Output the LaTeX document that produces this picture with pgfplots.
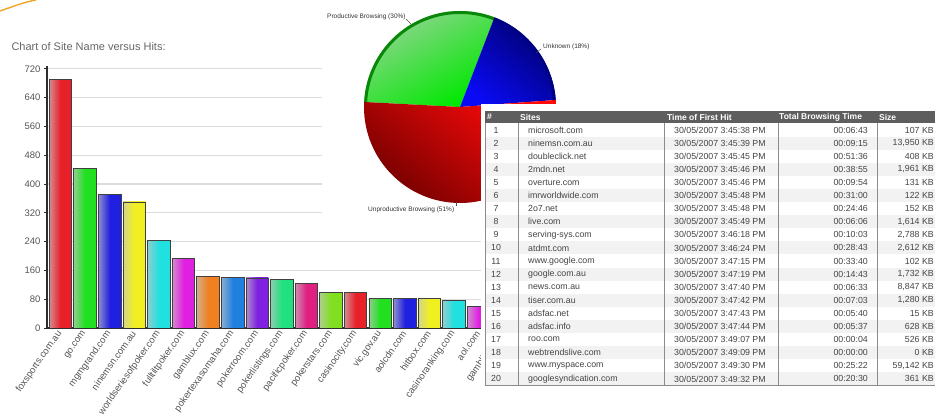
\documentclass[border=0pt]{standalone}
\usepackage{fontspec}
\setmainfont{Liberation Sans}
\usepackage{pgfplots}
\pgfplotsset{compat=1.18}

\definecolor{cRed}{HTML}{E8202A}
\definecolor{cGreen}{HTML}{20E020}
\definecolor{cBlue}{HTML}{2020E0}
\definecolor{cYellow}{HTML}{F0F020}
\definecolor{cCyan}{HTML}{20E0E0}
\definecolor{cMagenta}{HTML}{E020E0}
\definecolor{cOrange}{HTML}{F08020}
\definecolor{cAzure}{HTML}{2080E0}
\definecolor{cViolet}{HTML}{8020E0}
\definecolor{cSpring}{HTML}{20E080}
\definecolor{cRose}{HTML}{E02080}
\definecolor{cLime}{HTML}{80E020}
\definecolor{axisdark}{HTML}{2E2E2E}
\definecolor{gridgray}{HTML}{DCDCDC}
\definecolor{labgray}{HTML}{555555}
\definecolor{titlegray}{HTML}{666666}
\definecolor{accent}{HTML}{F0A628}
\definecolor{hdrgray}{HTML}{5E5E5E}
\definecolor{rowgray}{HTML}{F2F2F2}
\definecolor{tabtext}{HTML}{444444}
\definecolor{tabline}{HTML}{8C8C8C}
\definecolor{pgLight}{RGB}{150,212,150}
\definecolor{pgBright}{RGB}{0,232,0}
\definecolor{pgRim}{RGB}{10,135,10}
\definecolor{pbDark}{RGB}{0,0,110}
\definecolor{pbBright}{RGB}{10,10,245}
\definecolor{pbRim}{RGB}{0,0,130}
\definecolor{prBright}{RGB}{255,10,10}
\definecolor{prDark}{RGB}{115,0,0}

% one shaded bar: colour, position, hits
\newcommand\hitbar[3]{\addplot[ybar, bar width=22.5pt, bar shift=0pt, draw=black!75, line width=0.8pt,
  left color=#1!40!white!85!black, right color=#1, middle color=#1] coordinates {(#2,#3)};}

% pie shares (percent)
\def\pProd{30}
\def\pUnk{18}
\def\pUnpr{51}

\begin{document}
\begin{tikzpicture}[x=1pt,y=1pt]

\draw[accent, line width=1.4pt] (0,409) .. controls (12,413) and (24,418) .. (36,420);

\node[anchor=west, text=titlegray, font=\fontsize{11}{13}\selectfont] at (8,373) {Chart of Site Name versus Hits:};

\begin{axis}[
  at={(47pt,92pt)}, anchor=south west,
  x=24.59pt, y=0.36pt,
  xmin=-0.55, xmax=20, ymin=0, ymax=728,
  axis lines*=left,
  axis line style={line width=2.2pt, color=axisdark},
  ymajorgrids, grid style={line width=1.3pt, color=gridgray},
  ytick={0,80,...,720},
  xtick={0,...,18},
  xticklabels={foxsports.com.au, go.com, mgmgrand.com, ninemsn.com.au, worldseriesofpoker.com,
    fulltiltpoker.com, gamblux.com, pokertexasomaha.com, pokerroom.com, pokerlistings.com,
    pacificpoker.com, pokerstars.com, casinocity.com, vic.gov.au, aolcdn.com, hitbox.com,
    casinoranking.com, aol.com, gambling.com},
  tick align=outside, major tick length=3pt,
  y tick style={color=axisdark, line width=0.6pt},
  x tick style={draw=none},
  yticklabel style={font=\fontsize{9.5}{11}\selectfont, text=labgray},
  xticklabel style={font=\fontsize{9.5}{11}\selectfont, text=labgray, rotate=55, anchor=east, inner sep=1pt},
  /pgf/number format/assume math mode=true,
]
\hitbar{cRed}{0}{690}
\hitbar{cGreen}{1}{442}
\hitbar{cBlue}{2}{370}
\hitbar{cYellow}{3}{350}
\hitbar{cCyan}{4}{242}
\hitbar{cMagenta}{5}{194}
\hitbar{cOrange}{6}{143}
\hitbar{cAzure}{7}{140}
\hitbar{cViolet}{8}{139}
\hitbar{cSpring}{9}{136}
\hitbar{cRose}{10}{124}
\hitbar{cLime}{11}{98}
\hitbar{cRed}{12}{98}
\hitbar{cGreen}{13}{82}
\hitbar{cBlue}{14}{82}
\hitbar{cYellow}{15}{81}
\hitbar{cCyan}{16}{76}
\hitbar{cMagenta}{17}{61}
\hitbar{cOrange}{18}{55}
\end{axis}

% the pie picture's white panel
\fill[white] (322,195) rectangle (935,420);

\pgfmathsetmacro\aStart{69}
\pgfmathsetmacro\aGreen{\aStart+3.6*\pProd}
\pgfmathsetmacro\aBlue{\aStart-3.6*\pUnk}
\pgfmathsetmacro\aRedEnd{\aBlue+360}
\begin{axis}[at={(460pt,313pt)}, anchor=center, x=1pt, y=1pt, hide axis,
  xmin=-100, xmax=100, ymin=-100, ymax=100, clip=false]
  \shade[top color=pgLight, bottom color=pgBright, shading angle=30]
    (0,0) -- ++(\aStart:96pt) arc[start angle=\aStart, end angle=\aGreen, radius=96pt] -- cycle;
  \shade[top color=pbDark, bottom color=pbBright, shading angle=-40]
    (0,0) -- ++(\aBlue:96pt) arc[start angle=\aBlue, end angle=\aStart, radius=96pt] -- cycle;
  \shade[top color=prBright, bottom color=prDark, shading angle=-40]
    (0,0) -- ++(\aGreen:96pt) arc[start angle=\aGreen, end angle=\aRedEnd, radius=96pt] -- cycle;
  \draw[pgRim, line width=3pt]
    (0,0) ++(\aStart:94.5pt) arc[start angle=\aStart, end angle=\aGreen, radius=94.5pt];
  \draw[pbRim, line width=3pt]
    (0,0) ++(\aBlue:94.5pt) arc[start angle=\aBlue, end angle=\aStart, radius=94.5pt];
\end{axis}

\begin{scope}[font=\fontsize{6.5}{7.5}\selectfont, text=black!80]
\node[anchor=west, inner sep=0] at (327,403) {Productive Browsing (30\%)};
\draw[black!70, line width=0.4pt] (406,401) -- (411,396);
\node[anchor=west, inner sep=0] at (543,373) {Unknown (18\%)};
\draw[black!70, line width=0.4pt] (541,371) -- (536,367);
\node[anchor=west, inner sep=0] at (368,210) {Unproductive Browsing (51\%)};
\draw[black!70, line width=0.4pt] (456,214) -- (456,218);
\end{scope}

% table
\fill[white] (481,32) rectangle (935,316);
\fill[hdrgray] (485,297) rectangle (935,308.5);
\begin{scope}[font=\bfseries\fontsize{8.5}{10}\selectfont, text=white]
\node[anchor=west, inner sep=0] at (487,303) {\#};
\node[anchor=west, inner sep=0] at (520,303) {Sites};
\node[anchor=west, inner sep=0] at (667,303) {Time of First Hit};
\node[anchor=west, inner sep=0] at (779,303) {Total Browsing Time};
\node[anchor=west, inner sep=0] at (879,303) {Size};
\end{scope}
\begin{scope}[font=\fontsize{8.8}{10}\selectfont, text=tabtext]
\foreach \n/\s/\t/\d/\z in {
 1/microsoft.com/3:45:38/00:06:43/107,
 2/ninemsn.com.au/3:45:39/00:09:15/{13,950},
 3/doubleclick.net/3:45:45/00:51:36/408,
 4/2mdn.net/3:45:46/00:38:55/{1,961},
 5/overture.com/3:45:46/00:09:54/131,
 6/imrworldwide.com/3:45:48/00:31:00/122,
 7/2o7.net/3:45:48/00:24:46/152,
 8/live.com/3:45:49/00:06:06/{1,614},
 9/serving-sys.com/3:46:18/00:10:03/{2,788},
 10/atdmt.com/3:46:24/00:28:43/{2,612},
 11/www.google.com/3:47:15/00:33:40/102,
 12/google.com.au/3:47:19/00:14:43/{1,732},
 13/news.com.au/3:47:40/00:06:33/{8,847},
 14/tiser.com.au/3:47:42/00:07:03/{1,280},
 15/adsfac.net/3:47:43/00:05:40/15,
 16/adsfac.info/3:47:44/00:05:37/628,
 17/roo.com/3:49:07/00:00:04/526,
 18/webtrendslive.com/3:49:09/00:00:00/0,
 19/www.myspace.com/3:49:30/00:25:22/{59,142},
 20/googlesyndication.com/3:49:32/00:20:30/361}{
  \pgfmathsetmacro\yy{290-(\n-1)*13.1}
  \pgfmathsetmacro\ylo{\yy-6.55}
  \pgfmathsetmacro\yhi{\yy+6.55}
  \ifodd\n\relax\else\fill[rowgray] (485,\ylo) rectangle (935,\yhi);\fi
  \node[inner sep=0] at (496,\yy) {\n};
  \node[anchor=west, inner sep=0] at (528,\yy) {\s};
  \node[anchor=west, inner sep=0] at (674,\yy) {30/05/2007 \t\ PM};
  \node[anchor=east, inner sep=0] at (868,\yy) {\d};
  \node[anchor=east, inner sep=0] at (934,\yy) {\z\ KB};
}
\end{scope}
\foreach \xx in {518,664,778,877} \draw[tabline, line width=0.7pt] (\xx,34.5) -- (\xx,297);
\draw[tabline, line width=0.6pt] (485,34.5) -- (935,34.5);
\draw[tabline, line width=0.6pt] (485,34.5) -- (485,297);

\pgfresetboundingbox
\path[use as bounding box] (0,0) rectangle (935,420);
\end{tikzpicture}
\end{document}
